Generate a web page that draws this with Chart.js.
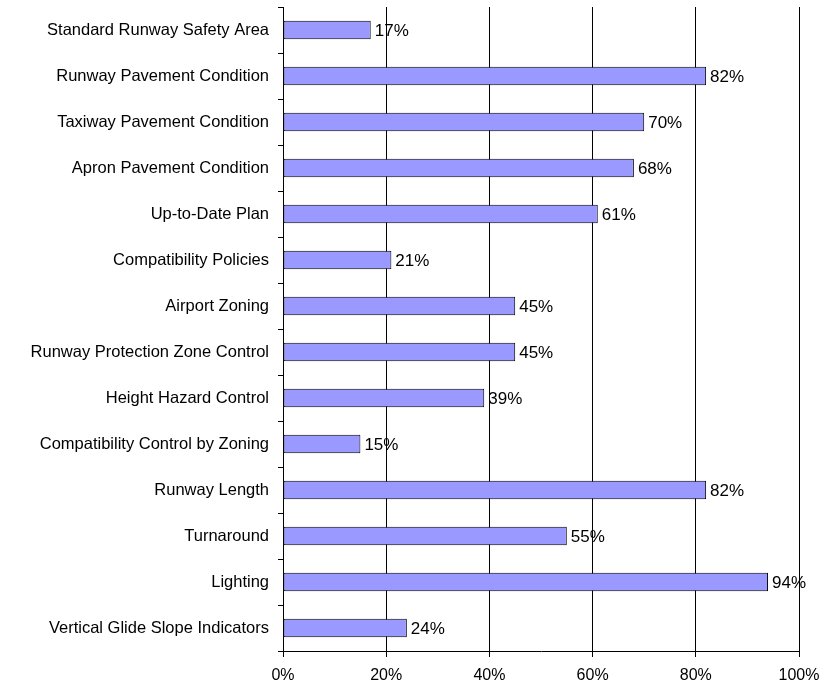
<!DOCTYPE html>
<html lang="en">
<head>
    <meta charset="UTF-8">
    <title>Airport Standards</title>
    <script src="https://cdn.jsdelivr.net/npm/chart.js"></script>
    <style>
        html, body { margin: 0; padding: 0; background: #fff; }
        #wrap { width: 824px; height: 690px; }
    </style>
</head>
<body>
    <div id="wrap"><canvas id="grafico"></canvas></div>

    <script>
        // categories top to bottom
        const categorias = [
            'Standard Runway Safety Area',
            'Runway Pavement Condition',
            'Taxiway Pavement Condition',
            'Apron Pavement Condition',
            'Up-to-Date Plan',
            'Compatibility Policies',
            'Airport Zoning',
            'Runway Protection Zone Control',
            'Height Hazard Control',
            'Compatibility Control by Zoning',
            'Runway Length',
            'Turnaround',
            'Lighting',
            'Vertical Glide Slope Indicators'
        ];
        const percentuais = [17, 82, 70, 68, 61, 21, 45, 45, 39, 15, 82, 55, 94, 24];
        const ticksX = [0, 20, 40, 60, 80, 100];

        // value labels at the end of each bar
        const rotulos = {
            id: 'rotulos',
            afterDatasetsDraw(chart) {
                const ctx = chart.ctx;
                const meta = chart.getDatasetMeta(0);
                ctx.save();
                ctx.font = '17px "Liberation Sans", Arial, sans-serif';
                ctx.fillStyle = '#000';
                ctx.textAlign = 'left';
                ctx.textBaseline = 'middle';
                meta.data.forEach((bar, i) => {
                    ctx.fillText(percentuais[i] + '%', bar.x + 4, bar.y + 1);
                });
                ctx.restore();
            }
        };

        Chart.defaults.font.family = '"Liberation Sans", Arial, sans-serif';
        Chart.defaults.font.size = 16;
        Chart.defaults.color = '#000';

        new Chart(document.getElementById('grafico'), {
            type: 'bar',
            data: {
                labels: categorias,
                datasets: [{
                    data: percentuais,
                    backgroundColor: '#9999ff',
                    borderColor: '#000',
                    borderWidth: 1,
                    borderSkipped: false,
                    categoryPercentage: 1,
                    barPercentage: 0.4
                }]
            },
            options: {
                indexAxis: 'y',
                responsive: true,
                maintainAspectRatio: false,
                animation: false,
                layout: { padding: { top: 7, right: 25, left: 0, bottom: 0 } },
                plugins: {
                    legend: { display: false },
                    tooltip: { enabled: false }
                },
                scales: {
                    x: {
                        min: 0,
                        max: 100,
                        afterBuildTicks: axis => { axis.ticks = ticksX.map(v => ({ value: v })); },
                        afterFit: axis => {
                            axis.height = 39;
                            axis.paddingLeft = 0;
                            axis.paddingRight = 0;
                        },
                        ticks: { callback: v => v + '%', padding: 9, font: { size: 16 } },
                        grid: { color: '#000', lineWidth: 1, tickLength: 6 },
                        border: { color: '#000' }
                    },
                    y: {
                        afterFit: axis => {
                            axis.width = 283;
                            axis.paddingTop = 0;
                            axis.paddingBottom = 0;
                        },
                        ticks: { padding: 9, font: { size: 16.5 } },
                        grid: { offset: true, drawOnChartArea: false, color: '#000', tickLength: 5 },
                        border: { color: '#000' }
                    }
                }
            },
            plugins: [rotulos]
        });
    </script>
</body>
</html>
